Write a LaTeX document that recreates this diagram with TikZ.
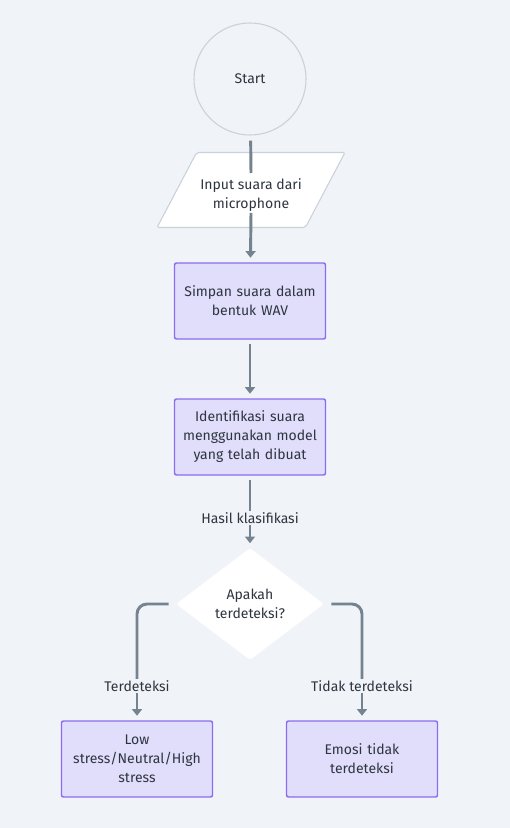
\documentclass[tikz,border=0pt]{standalone}
\usepackage{fontspec}
\setmainfont{Fira Sans}
\usetikzlibrary{shapes.geometric, arrows.meta}
\definecolor{bgGrey}{HTML}{F0F3F7}
\definecolor{edgeGrey}{HTML}{75828F}
\definecolor{boxFill}{HTML}{E0DEFB}
\definecolor{boxLine}{HTML}{8B6CF0}
\definecolor{startLine}{HTML}{C9D1DA}
\definecolor{txt}{HTML}{2E3440}
\tikzset{
    every node/.style={font=\fontsize{10.5}{14.25}\selectfont, text=txt, align=center},
    process/.style={draw=boxLine, fill=boxFill, line width=1.1pt, rounded corners=1.5pt,
        minimum width=113.25pt, minimum height=57pt, text width=105pt},
    edge/.style={draw=edgeGrey, line width=2.2pt},
    arrow/.style={edge, -{Triangle[length=5pt, width=7.5pt]}, shorten >=3.4pt},
    edgeLabel/.style={inner sep=1pt}
}
\newcommand{\branch}[3]{
    \draw[edge, rounded corners=7.5pt, shorten <=5.25pt] (decide.#1) -| (#2);
    \draw[arrow] (#2) -- (#3);
}

\begin{document}
\begin{tikzpicture}[x=0.75pt, y=-0.75pt]
	\fill[bgGrey] (0,0) rectangle (510,828);
	\useasboundingbox (0,0) rectangle (510,828);

	% start and input
	\node[circle, draw=startLine, line width=0.8pt, minimum size=84pt] (start) at (250,79) {Start};
	\node[trapezium, trapezium left angle=70, trapezium right angle=110, trapezium stretches=true,
	    draw=startLine, fill=white, line width=0.8pt, rounded corners=1.5pt,
	    minimum width=141pt, minimum height=56.25pt] (input) at (251,190) {};
	\node (inputText) at (251,195) {Input suara dari\\microphone};

	% processing
	\node[process] (simpan) at (250,301) {Simpan suara dalam\\bentuk WAV};
	\node[process] (identifikasi) at (250,437) {Identifikasi suara\\menggunakan model\\yang telah dibuat};

	% decision
	\node[edgeLabel] (hasil) at (250,518) {Hasil klasifikasi};
	\node[diamond, fill=white, rounded corners=2pt, minimum width=111pt, minimum height=84pt,
	    inner sep=0pt] (decide) at (250,604) {Apakah\\terdeteksi?};

	% outcomes
	\node[edgeLabel] (yes) at (137,686) {Terdeteksi};
	\node[edgeLabel] (no) at (362,686) {Tidak terdeteksi};
	\node[process] (low) at (137,759) {Low\\stress/Neutral/High\\stress};
	\node[process] (emosi) at (362,759) {Emosi tidak\\terdeteksi};

	% connectors
	\draw[edge, shorten <=3.75pt] (start) -- ([yshift=12.75pt]input.center);
	\draw[arrow] ([yshift=-17.25pt]input.center) -- (simpan);
	\draw[arrow, shorten <=3.4pt] (simpan) -- (identifikasi);
	\draw[edge, shorten <=3.4pt] (identifikasi) -- (hasil);
	\draw[arrow] (hasil) -- (decide);
	\branch{west}{yes}{low};
	\branch{east}{no}{emosi};
\end{tikzpicture}
\end{document}
